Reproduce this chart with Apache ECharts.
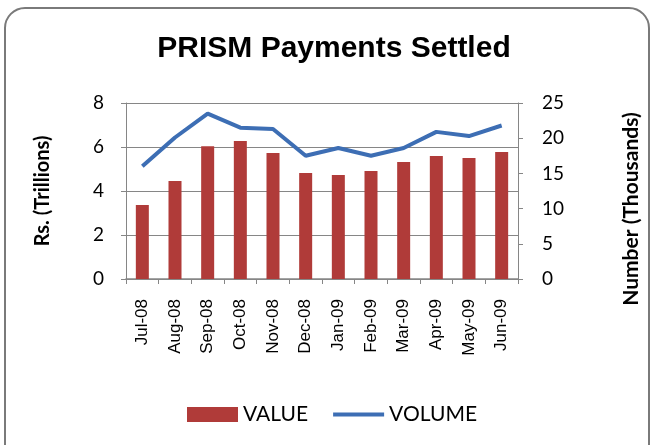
<!DOCTYPE html>
<html>
<head>
<meta charset="utf-8">
<script src="https://cdn.jsdelivr.net/npm/echarts@6/dist/echarts.min.js"></script>
<style>
  html, body { margin: 0; padding: 0; background: #fff; }
  #chart { width: 650px; height: 445px; }
</style>
</head>
<body>
<div id="chart"></div>
<script>
const months = ["Jul-08", "Aug-08", "Sep-08", "Oct-08", "Nov-08", "Dec-08", "Jan-09", "Feb-09", "Mar-09", "Apr-09", "May-09", "Jun-09"];
// Rs. trillions
const valueData = [3.36, 4.45, 6.03, 6.27, 5.73, 4.82, 4.73, 4.91, 5.32, 5.59, 5.5, 5.77];
// number, thousands
const volumeData = [16.0, 20.1, 23.5, 21.5, 21.3, 17.5, 18.6, 17.5, 18.6, 20.9, 20.3, 21.8];

const chart = echarts.init(document.getElementById("chart"));

const axisGray = "#868686";
const textFont = "Lato";

chart.setOption({
    animation: false,
    title: {
        text: "PRISM Payments Settled",
        left: 329,
        textAlign: "center",
        top: 29,
        textStyle: { fontFamily: "Liberation Sans", fontWeight: "bold", fontSize: 30, color: "#000" }
    },
    graphic: [{
        type: "rect",
        shape: { x: 5, y: 8, width: 644, height: 460, r: 20 },
        style: { fill: "none", stroke: "#7a7a7a", lineWidth: 2 },
        silent: true
    }],
    legend: {
        top: 399,
        left: 182,
        itemGap: 23,
        itemWidth: 51,
        itemHeight: 15,
        textStyle: { fontFamily: textFont, fontSize: 21, color: "#000" },
        data: [
            { name: "VALUE", icon: "rect" },
            { name: "VOLUME", itemStyle: { opacity: 0 }, lineStyle: { width: 4 } }
        ]
    },
    grid: { left: 126, right: 131, top: 103, bottom: 166 },
    xAxis: {
        type: "category",
        data: months,
        boundaryGap: true,
        axisLine: { lineStyle: { color: axisGray, width: 1.5 } },
        axisTick: { show: true, alignWithLabel: false, length: 5, lineStyle: { color: axisGray } },
        axisLabel: { rotate: 90, margin: 20, fontFamily: "Liberation Sans", fontSize: 17, color: "#000", interval: 0 }
    },
    yAxis: [
        {
            type: "value",
            min: 0, max: 8, interval: 2,
            name: "Rs. (Trillions)",
            nameLocation: "middle",
            nameGap: 73,
            nameTextStyle: { fontFamily: textFont, fontWeight: "bold", fontSize: 20, color: "#000" },
            axisLine: { show: true, lineStyle: { color: axisGray } },
            axisTick: { show: true, length: 5, lineStyle: { color: axisGray } },
            axisLabel: { margin: 22, fontFamily: textFont, fontSize: 19, color: "#000" },
            splitLine: { show: true, lineStyle: { color: axisGray } }
        },
        {
            type: "value",
            min: 0, max: 25, interval: 5,
            name: "Number (Thousands)",
            nameLocation: "middle",
            nameGap: 103,
            nameRotate: 90,
            nameTextStyle: { fontFamily: textFont, fontWeight: "bold", fontSize: 21, color: "#000", padding: [0, 36, 0, 0] },
            position: "right",
            axisLine: { show: true, lineStyle: { color: axisGray } },
            axisTick: { show: true, length: 5, lineStyle: { color: axisGray } },
            axisLabel: { margin: 24, fontFamily: textFont, fontSize: 19, color: "#000" },
            splitLine: { show: false }
        }
    ],
    series: [
        {
            name: "VALUE",
            type: "bar",
            yAxisIndex: 0,
            barWidth: 13,
            itemStyle: { color: "#B03B39" },
            data: valueData
        },
        {
            name: "VOLUME",
            type: "line",
            yAxisIndex: 1,
            symbol: "none",
            lineStyle: { color: "#3D6EB4", width: 4 },
            itemStyle: { color: "#3D6EB4" },
            data: volumeData
        }
    ]
});
</script>
</body>
</html>
